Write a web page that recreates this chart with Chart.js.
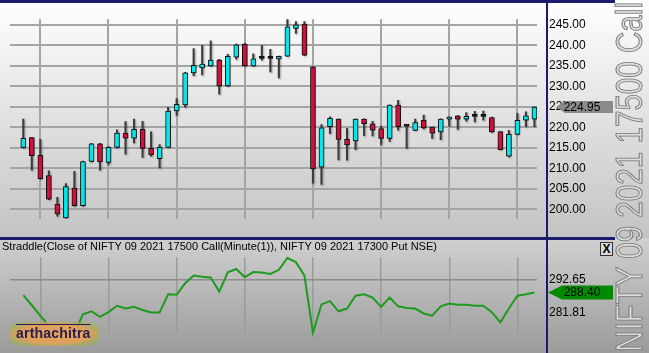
<!DOCTYPE html>
<html><head><meta charset="utf-8">
<script src="https://cdn.jsdelivr.net/npm/chart.js@4.4.0/dist/chart.umd.min.js"></script>
<style>
html,body{margin:0;padding:0;width:649px;height:353px;overflow:hidden;background:#bdbdbd;}
#wrap{position:relative;width:649px;height:353px;overflow:hidden;}
.abs{position:absolute;}
#bgTop{left:0;top:0;width:649px;height:238px;background:linear-gradient(#ffffff,#c3c3c3);}
#bgBot{left:0;top:238px;width:649px;height:115px;background:linear-gradient(#d0d0d0,#9b9b9b);}
#cTop{left:0;top:0;}
#cBot{left:0;top:238px;}
#navyTop{left:0;top:0;width:615px;height:3px;background:#1b1b6b;}
#navyMid{left:0;top:237px;width:615px;height:3px;background:#1b1b6b;}
#navyV{left:546px;top:0;width:2px;height:353px;background:#1b1b6b;}
#title{left:2px;top:240px;font:11px "Liberation Sans",Arial,sans-serif;color:#000;white-space:nowrap;}
#logo{left:9px;top:322px;width:90px;height:24px;border-radius:9px;
 background:radial-gradient(ellipse at center,#e6a35a 0%,#dea05c 55%,rgba(150,180,70,0.55) 80%,rgba(150,180,70,0) 100%);}
#logoTxt{left:16px;top:325px;font:bold 14px "Liberation Sans",Arial,sans-serif;color:#2a1c50;letter-spacing:0.2px;text-decoration:overline;white-space:nowrap;}
#xbox{left:600px;top:242px;width:11px;height:12px;border:1px solid #333;background:#d8d8d8;font:bold 12px "Liberation Sans",Arial,sans-serif;line-height:12px;text-align:center;color:#000;}
#vtext{left:0;top:0;font:36px "Liberation Sans",Arial,sans-serif;line-height:36px;white-space:nowrap;color:#dedede;-webkit-text-stroke:1px #7a7a7a;transform-origin:0 0;}
</style></head>
<body><div id="wrap">
<div id="bgTop" class="abs"></div>
<div id="bgBot" class="abs"></div>
<canvas id="cTop" class="abs" width="649" height="238"></canvas>
<canvas id="cBot" class="abs" width="649" height="115"></canvas>
<div id="navyTop" class="abs"></div>
<div id="navyMid" class="abs"></div>
<div id="navyV" class="abs"></div>
<div id="title" class="abs">Straddle(Close of NIFTY 09 2021 17500 Call(Minute(1)), NIFTY 09 2021 17300 Put NSE)</div>
<div id="logo" class="abs"></div>
<div id="logoTxt" class="abs">arthachitra</div>
<div id="xbox" class="abs">X</div>
<div id="vtext" class="abs">NIFTY 09 2021 17500 Call</div>
</div>
<script>
// ---- data ----
const opens  = [215.1,217.5,213.2,208.25,201.3,197.95,205.2,200.9,211.7,216.0,211.45,215.15,218.6,217.4,219.5,214.9,212.4,215.15,224.0,225.5,233.3,234.5,235.0,236.4,230.1,237.1,240.3,235.0,236.8,236.8,236.7,237.35,244.1,245.2,234.7,210.3,220.2,222.0,217.1,216.7,222.0,220.85,219.7,217.3,225.45,220.4,219.25,221.75,220.05,218.9,222.0,222.8,222.0,222.8,222.8,222.4,218.95,213.0,218.3,221.75,222.0];
const highs  = [222.05,217.6,217.1,209.4,202.95,206.3,209.3,211.8,216.1,216.1,215.3,219.4,221.4,222.05,221.5,218.9,215.8,224.9,227.0,233.4,239.2,240.0,241.1,236.6,237.8,240.3,240.5,237.9,240.0,239.0,237.4,246.4,245.8,245.8,234.8,220.7,222.6,222.1,219.8,222.1,222.1,221.5,220.3,225.5,226.6,220.5,222.05,223.0,220.1,222.1,222.6,222.9,223.6,223.9,224.0,222.5,219.0,219.3,223.4,223.8,225.0];
const lows   = [215.0,209.55,207.4,202.4,198.4,197.8,200.8,200.8,211.6,209.6,211.0,215.0,213.5,216.2,212.7,213.0,210.15,215.1,223.0,224.9,232.6,232.8,234.9,228.1,230.0,236.6,234.9,234.9,236.4,233.5,232.05,237.3,242.9,237.5,206.4,206.1,218.5,212.1,212.0,214.6,218.0,217.9,215.85,216.6,219.3,214.9,219.2,219.6,217.3,217.0,220.3,219.5,221.5,221.35,221.75,218.8,214.5,212.8,218.2,220.2,220.2];
const closes = [217.35,213.1,207.5,202.5,198.9,205.6,200.9,211.7,216.0,211.6,215.15,218.6,217.4,219.5,214.9,213.3,215.15,224.0,225.6,233.3,235.1,235.45,236.4,230.1,237.3,240.1,235.0,236.7,236.9,236.9,237.3,244.5,245.0,237.6,209.9,219.9,222.2,217.1,215.7,222.0,220.9,219.3,217.3,225.45,220.15,220.3,221.2,219.85,218.6,222.0,222.5,222.0,222.7,222.7,222.7,218.9,214.6,218.3,221.75,222.8,224.95];
const straddle = [287.54,284.17,280.76,277.35,274.89,277.5,274.89,281.17,282.17,280.35,281.9,283.99,283.08,283.65,282.62,281.8,281.8,287.81,287.63,291.46,294.01,293.64,293.37,288.72,295.11,296.2,293.47,295.19,295.01,294.56,295.93,299.84,298.47,294.01,275.06,284.45,285.55,282.17,283.08,287.35,287.81,286.72,283.63,286.72,283.81,283.26,283.08,281.45,280.71,283.81,284.72,284.35,284.35,283.99,283.99,281.89,278.52,283.08,287.35,287.81,288.40];
const priceTicks = [200,205,210,215,220,225,230,235,240,245];
const straddleTicks = [281.81,292.65];
const timeGridTicks = [2,10,18,26,34,42,50,58];

// ---- vertical title ----
(function(){
  const el = document.getElementById('vtext');
  const w = el.getBoundingClientRect().width;
  const k = 350 / w;
  el.style.transform = 'translate(612px,352px) rotate(-90deg) scaleX(' + k + ')';
})();

const idx = closes.map((_, i) => i);
const FONT = {family:'"Liberation Sans", Arial, sans-serif', size:12};

const tagPlugin = {
  id:'lastTag',
  afterDraw(chart, args, o){
    if(!o || !o.text) return;
    const ctx = chart.ctx;
    const y = chart.scales.y.getPixelForValue(o.value);
    const h = o.h;
    ctx.save();
    ctx.fillStyle = o.bg;
    ctx.beginPath();
    ctx.moveTo(o.x0, y);
    ctx.lineTo(o.tip, y - h/2);
    ctx.lineTo(o.x1, y - h/2);
    ctx.lineTo(o.x1, y + h/2);
    ctx.lineTo(o.tip, y + h/2);
    ctx.closePath();
    ctx.fill();
    ctx.fillStyle = o.color;
    ctx.font = '12px "Liberation Sans", Arial, sans-serif';
    ctx.textAlign = 'center';
    ctx.textBaseline = 'middle';
    ctx.fillText(o.text, o.tx, y + 0.5);
    ctx.restore();
  }
};
const shadowPlugin = {
  id:'candleShadow',
  beforeDatasetsDraw(chart, args, o){
    if(!o || !o.on) return;
    const ctx = chart.ctx;
    ctx.save();
    ctx.shadowColor = 'rgba(0,0,0,0.35)';
    ctx.shadowBlur = 2;
    ctx.shadowOffsetX = 1;
    ctx.shadowOffsetY = 1;
  },
  afterDatasetsDraw(chart, args, o){
    if(!o || !o.on) return;
    chart.ctx.restore();
  }
};
Chart.register(tagPlugin, shadowPlugin);

function makeX(gridColor, lw){
  return {
    type:'linear', min:-1.56, max:60.3, offset:false,
    afterBuildTicks: s => { s.ticks = timeGridTicks.map(v => ({value:v})); },
    afterFit: s => { s.height = 0; },
    ticks:{display:false},
    grid:{color:gridColor, lineWidth:lw, drawTicks:false, offset:false},
    border:{display:false}
  };
}

new Chart(document.getElementById('cTop'), {
  type:'bar',
  data:{datasets:[
    {
      label:'body',
      data: idx.map(i => ({x:i, y:[opens[i], closes[i]]})),
      backgroundColor: idx.map(i => Math.abs(closes[i]-opens[i]) < 0.15 ? '#111' : (closes[i] > opens[i] ? '#00e8ec' : '#d0103c')),
      borderColor:'#111', borderWidth:1, borderSkipped:false,
      barThickness:5, minBarLength:2, grouped:false
    },
    {
      label:'wick',
      data: idx.map(i => ({x:i, y:[lows[i], highs[i]]})),
      backgroundColor:'#3c3c3c', borderWidth:0,
      barThickness:1.4, grouped:false
    }
  ]},
  options:{
    responsive:false, animation:false, devicePixelRatio:1,
    layout:{padding:{left:10, right:0, top:13, bottom:11}},
    plugins:{legend:{display:false}, tooltip:{enabled:false},
      candleShadow:{on:true},
      lastTag:{value:closes[closes.length-1], text:closes[closes.length-1].toFixed(2), x0:556, tip:565, x1:613, h:12, tx:582, bg:'#8a8a8a', color:'#000'}},
    scales:{
      x: makeX('#a4a4a4', 2),
      y:{
        position:'right', min:197.73, max:246.36,
        afterBuildTicks: s => { s.ticks = priceTicks.map(v => ({value:v})); },
        afterFit: s => { s.width = 112; },
        ticks:{padding:12, color:'#000', font:FONT, callback: v => Number(v).toFixed(2)},
        grid:{color:'#a4a4a4', lineWidth:2, drawTicks:false},
        border:{display:false}
      }
    }
  }
});

new Chart(document.getElementById('cBot'), {
  type:'line',
  data:{datasets:[{
    data: idx.map(i => ({x:i, y:straddle[i]})),
    borderColor:'#1e9a1e', borderWidth:2, pointRadius:0, tension:0, clip:false
  }]},
  options:{
    responsive:false, animation:false, devicePixelRatio:1,
    layout:{padding:{left:10, right:0, top:12, bottom:10}},
    plugins:{legend:{display:false}, tooltip:{enabled:false},
      lastTag:{value:straddle[straddle.length-1], text:straddle[straddle.length-1].toFixed(2), x0:548, tip:562, x1:613, h:14, tx:582, bg:'#008a00', color:'#000'}},
    scales:{
      x: makeX('#9a9a9a', 1.5),
      y:{
        position:'right', min:274.7, max:300.11,
        afterBuildTicks: s => { s.ticks = straddleTicks.map(v => ({value:v})); },
        afterFit: s => { s.width = 112; },
        ticks:{padding:12, color:'#000', font:FONT, callback: v => Number(v).toFixed(2)},
        grid:{color: c => (c.tick && c.tick.value === straddleTicks[1]) ? '#8c8c8c' : 'rgba(0,0,0,0)', lineWidth:1.5, drawTicks:false},
        border:{display:false}
      }
    }
  }
});
</script>
</body></html>
